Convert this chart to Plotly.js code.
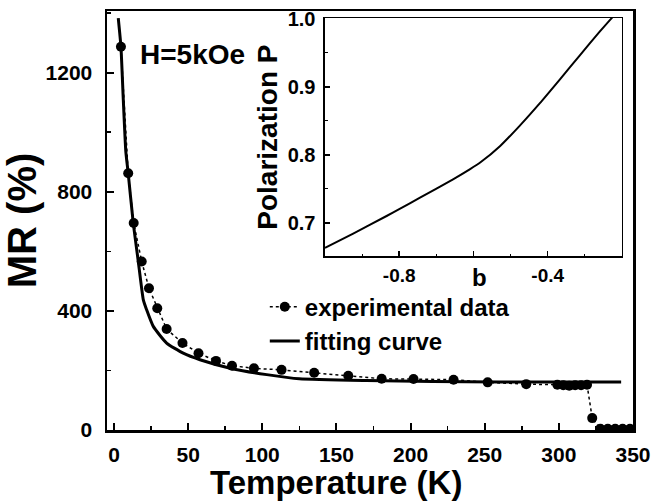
<!DOCTYPE html>
<html><head><meta charset="utf-8">
<script src="https://cdn.plot.ly/plotly-3.0.1.min.js"></script>
<style>html,body{margin:0;padding:0;background:#fff}</style>
</head><body><div id="chart" style="width:667px;height:502px"></div>
<script>
// Main panel: experimental MR(T) at H = 5 kOe
const tempExp = [4.7, 9.6, 13.3, 18.7, 23.6, 29.2, 35.5, 46.2, 57, 68.8, 79.6, 94.4, 113, 135, 158, 180.5, 202, 229, 252, 278, 299, 303, 307, 311, 315, 319, 322.5, 328, 333, 338, 343, 348];
const mrExp   = [1287, 862, 695, 566, 476, 409, 339, 292, 258, 232, 216, 207, 202, 192, 182, 172, 171, 169, 160, 154, 152, 150, 149, 150, 150, 152, 40, 4, 4, 4, 4, 4];
// Main panel: fitting curve
const tempFit = [2.9, 4.7, 6.3, 8, 9.6, 13, 16.4, 19.8, 22, 26.5, 35.5, 46.7, 58, 80.4, 103, 125, 170, 215, 260, 300, 342];
const mrFit   = [1383, 1287, 1108, 935, 862, 695, 566, 437, 404, 348, 292, 258, 236, 205, 186, 172, 166, 163, 161, 161, 161];
// Inset: polarization P vs b
const bInset = [-1.0, -0.924, -0.834, -0.8, -0.744, -0.655, -0.609, -0.581, -0.528, -0.475, -0.421, -0.367, -0.314, -0.260, -0.226];
const pInset = [0.663, 0.684, 0.710, 0.720, 0.737, 0.764, 0.779, 0.789, 0.813, 0.843, 0.876, 0.911, 0.946, 0.981, 1.002];
// Tick labels
const mainXTicks = [0, 50, 100, 150, 200, 250, 300, 350];
const mainYTicks = [0, 400, 800, 1200];
const insetXTicks = [-0.8, -0.6, -0.4];
const insetXText = ['-0.8', '', '-0.4'];
const insetYTicks = [0.7, 0.8, 0.9, 1.0];
const insetYText = ['0.7', '0.8', '0.9', '1.0'];
// Texts
const xTitle = 'Temperature (K)';
const yTitle = 'MR (%)';
const insetXTitle = 'b';
const insetYTitle = 'Polarization P';
const fieldLabel = 'H=5kOe';

const FAM = 'Liberation Sans, Arial, Helvetica, sans-serif';
const bold = (s) => ({family: FAM, size: s, color: '#000', weight: 'bold'});

const traces = [
  {x: tempExp, y: mrExp, type: 'scatter', mode: 'lines+markers', name: 'experimental data',
   line: {color: '#000', width: 1.5, dash: 'dot'}, marker: {color: '#000', size: 10},
   xaxis: 'x', yaxis: 'y', cliponaxis: true},
  {x: tempFit, y: mrFit, type: 'scatter', mode: 'lines', name: 'fitting curve',
   line: {color: '#000', width: 3, shape: 'spline', smoothing: 0.5}, xaxis: 'x', yaxis: 'y'},
  {x: bInset, y: pInset, type: 'scatter', mode: 'lines', showlegend: false,
   line: {color: '#000', width: 2, shape: 'spline', smoothing: 0.5}, xaxis: 'x2', yaxis: 'y2'}
];

const layout = {
  width: 667, height: 502,
  margin: {l: 107, r: 34, t: 11, b: 72},
  paper_bgcolor: '#fff', plot_bgcolor: '#fff',
  font: bold(20),
  showlegend: true,
  legend: {x: 0.30, y: 0.347, xanchor: 'left', yanchor: 'top', bgcolor: 'rgba(0,0,0,0)',
           font: bold(24), tracegroupgap: 0, itemwidth: 30},
  xaxis: {domain: [0, 1], range: [-4.7, 350], tickvals: mainXTicks,
          ticks: 'inside', ticklen: 7, tickwidth: 2, tickcolor: '#000',
          minor: {dtick: 25, tick0: 0, ticks: 'inside', ticklen: 4, tickwidth: 1.5, tickcolor: '#000'},
          showline: true, linewidth: 2.5, linecolor: '#000', mirror: true,
          showgrid: false, zeroline: false, tickfont: bold(21), ticklabelstandoff: 4},
  yaxis: {domain: [0, 1], range: [0, 1407], tickvals: mainYTicks,
          ticks: 'inside', ticklen: 7, tickwidth: 2, tickcolor: '#000',
          minor: {dtick: 200, tick0: 0, ticks: 'inside', ticklen: 4, tickwidth: 1.5, tickcolor: '#000'},
          showline: true, linewidth: 2.5, linecolor: '#000', mirror: true,
          showgrid: false, zeroline: false, tickfont: bold(21), ticklabelstandoff: 8,
          title: {text: yTitle, font: bold(40), standoff: 0}},
  xaxis2: {domain: [0.4144, 0.979], anchor: 'y2', range: [-1.0, -0.2],
           tickvals: insetXTicks, ticktext: insetXText,
           ticks: 'inside', ticklen: 5, tickwidth: 1.5, tickcolor: '#000',
           minor: {dtick: 0.1, tick0: 0, ticks: 'inside', ticklen: 2, tickwidth: 1, tickcolor: '#000'},
           showline: true, linewidth: 1.5, linecolor: '#000', mirror: true,
           showgrid: false, zeroline: false, tickfont: bold(19), ticklabelstandoff: 2},
  yaxis2: {domain: [0.415, 0.983], anchor: 'x2', range: [0.651, 1.001],
           tickvals: insetYTicks, ticktext: insetYText,
           ticks: 'inside', ticklen: 5, tickwidth: 1.5, tickcolor: '#000',
           minor: {dtick: 0.05, tick0: 0, ticks: 'inside', ticklen: 3, tickwidth: 1, tickcolor: '#000'},
           showline: true, linewidth: 1.5, linecolor: '#000', mirror: true,
           showgrid: false, zeroline: false, tickfont: bold(20), ticklabelstandoff: 4,
           title: {text: insetYTitle, font: bold(28), standoff: 2}},
  annotations: [
    {text: fieldLabel, xref: 'paper', yref: 'paper', x: 0.058, y: 0.895, xanchor: 'left', yanchor: 'middle',
     showarrow: false, font: bold(28)},
    {text: xTitle, xref: 'paper', yref: 'paper', x: 0.435, y: -0.125, xanchor: 'center', yanchor: 'middle',
     showarrow: false, font: bold(33)},
    {text: insetXTitle, xref: 'x2', yref: 'paper', x: -0.583, y: 0.365, xanchor: 'center', yanchor: 'middle',
     showarrow: false, font: bold(24)}
  ]
};

Plotly.newPlot('chart', traces, layout, {displayModeBar: false, staticPlot: true});
</script>
</body></html>
